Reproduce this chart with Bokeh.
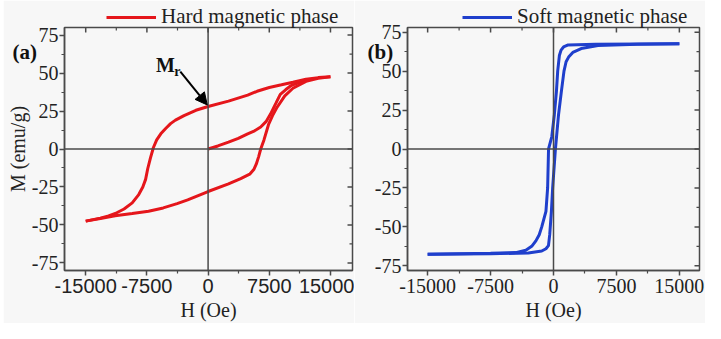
import math
from bokeh.plotting import figure
from bokeh.layouts import row
from bokeh.models import (Range1d, Span, Label, Arrow, NormalHead, GridBox,
                          Legend, LegendItem, FixedTicker, Spacer)
from bokeh.core.properties import value
from bokeh.embed import file_html
from bokeh.resources import INLINE

# ---------------- data ----------------
h_ticks = [-15000, -7500, 0, 7500, 15000]
h_tick_labels = ["-15000", "-7500", "0", "7500", "15000"]
h_minor = [-11250, -3750, 3750, 11250]
m_ticks = [-75, -50, -25, 0, 25, 50, 75]
m_tick_labels = ["-75", "-50", "-25", "0", "25", "50", "75"]
m_minor = [-62.5, -37.5, -12.5, 12.5, 37.5, 62.5]

# hard magnetic phase (a)
hard_init_H = [0, 1200, 2500, 3700, 4850, 5700, 6450, 7100, 7650, 8300, 8850, 9500, 10100, 11000, 12000]
hard_init_M = [0, 2, 4.5, 7, 10, 12, 14.5, 18, 23, 30, 36, 39, 41.5, 43.5, 45]

hard_desc_H = [15000, 13500, 12000, 10400, 9000, 7500, 6000, 4850, 2500, 0, -1500, -2950, -4000,
               -4600, -5200, -5800, -6300, -6700, -7070, -7400, -7660, -8000, -8500, -9300,
               -10300, -11200, -12200, -13200, -15000]
hard_desc_M = [47.5, 47, 46, 44, 42.3, 40.5, 38, 35.5, 31.5, 28, 25.5, 22, 19,
               16.7, 13.5, 10, 6, 1, -6, -13, -20, -25, -30, -35.5,
               -39.5, -42, -44, -45.5, -47.5]

hard_asc_H = [-15000, -13200, -11400, -9300, -7300, -5500, -3800, -2500, 0, 2500, 4000, 5100,
              5600, 5900, 6200, 6450, 6850, 7400, 7900, 8400, 9400, 10400, 12000, 13500, 15000]
hard_asc_M = [-47.5, -45.8, -44, -42.5, -41, -38.8, -36, -33.5, -28, -23, -19.5, -16.6,
              -13.5, -10, -5, 0, 6, 16, 22, 27, 35, 40, 44.5, 46.5, 47.5]

# soft magnetic phase (b)
soft_desc_H = [15000, 10000, 5000, 1750, 1200, 900, 700, 500, 350, 100, -200, -590, -700,
               -900, -1400, -1700, -2100, -2600, -3300, -4500, -7500, -15000]
soft_desc_M = [67.5, 67.4, 67.2, 66.8, 65.5, 63.5, 60, 50, 37, 22, 8, 0, -25,
               -40, -50, -55, -59, -62.5, -65, -66.5, -67, -67.5]

soft_asc_H = [-15000, -7500, -3000, -1400, -900, -600, -450, -250, -100, 230, 600, 940,
              1250, 1500, 1800, 2300, 3300, 5300, 10000, 15000]
soft_asc_M = [-67.5, -67.3, -66.7, -65.5, -64, -62, -55, -40, -25, 0, 22, 37,
              50, 56, 59, 62, 64.5, 66.5, 67.2, 67.5]

# ---------------- style ----------------
BG = "#f7f7f7"
PAGE_BG = "#fcfbc9"
AX = "#4a4a4a"
RED = "#e5161b"
BLUE = "#1f3fcc"
SERIF = "Liberation Serif"
SANS = "Liberation Sans"
FS = "20px"
W, H = 705, 323


def make_fig(width, xr, yr, left, right, xfont, ylabel):
    p = figure(width=width, height=H, x_range=Range1d(*xr), y_range=Range1d(*yr),
               output_backend="svg", toolbar_location=None,
               min_border_left=left, min_border_right=right,
               min_border_top=27, min_border_bottom=51)
    p.background_fill_color = BG
    p.border_fill_color = BG
    p.outline_line_color = AX
    p.outline_line_width = 1.5
    p.grid.visible = False

    xa = p.xaxis[0]
    ya = p.yaxis[0]
    xa.ticker = FixedTicker(ticks=h_ticks, minor_ticks=h_minor)
    ya.ticker = FixedTicker(ticks=m_ticks, minor_ticks=m_minor)
    xa.major_label_overrides = dict(zip(h_ticks, h_tick_labels))
    ya.major_label_overrides = dict(zip(m_ticks, m_tick_labels))
    for a, f in ((xa, xfont), (ya, SERIF)):
        a.axis_line_color = AX
        a.axis_line_width = 1.5
        a.major_tick_line_color = AX
        a.minor_tick_line_color = AX
        a.major_tick_line_width = 1.5
        a.minor_tick_line_width = 1.2
        a.major_tick_in = 0
        a.major_tick_out = 5
        a.minor_tick_in = 0
        a.minor_tick_out = 3
        a.major_label_text_font = f
        a.major_label_text_font_size = FS
        a.major_label_text_color = "#222222"
        a.axis_label_text_font = SERIF
        a.axis_label_text_font_style = "normal"
        a.axis_label_text_font_size = FS
        a.axis_label_text_color = "#222222"
    xa.major_label_standoff = 3
    xa.axis_label = "H (Oe)"
    xa.axis_label_standoff = 3
    ya.major_label_standoff = 1
    ya.axis_label_standoff = 0
    if ylabel:
        ya.axis_label = ylabel

    # inward mirror ticks on the top and right frame edges
    xmin, xmax = xr
    ymin, ymax = yr
    p.ray(x=[xmax] * len(m_ticks), y=m_ticks, length=5, length_units="screen",
          angle=math.pi, line_color=AX, line_width=1.5)
    p.ray(x=[xmax] * len(m_minor), y=m_minor, length=3, length_units="screen",
          angle=math.pi, line_color=AX, line_width=1.2)
    p.ray(x=h_ticks, y=[ymax] * len(h_ticks), length=5, length_units="screen",
          angle=-math.pi / 2, line_color=AX, line_width=1.5)
    p.ray(x=h_minor, y=[ymax] * len(h_minor), length=3, length_units="screen",
          angle=-math.pi / 2, line_color=AX, line_width=1.2)

    p.add_layout(Span(location=0, dimension="width", line_color=AX, line_width=1.5))
    p.add_layout(Span(location=0, dimension="height", line_color=AX, line_width=1.5))
    return p


# ---------- panel (a) ----------
p1 = make_fig(351, (-17600, 17700), (-80, 80), 52, 2, SANS, "M (emu/g)")
p1.line(hard_init_H, hard_init_M, line_color=RED, line_width=3)
p1.line(hard_desc_H, hard_desc_M, line_color=RED, line_width=3)
p1.line(hard_asc_H, hard_asc_M, line_color=RED, line_width=3)
p1.add_layout(Label(x=-6400, y=55, text="M", text_font=SERIF, text_font_style="bold",
                    text_font_size=FS, text_baseline="alphabetic", text_color="#111111"))
p1.add_layout(Label(x=-4150, y=51, text="r", text_font=SERIF, text_font_style="bold",
                    text_font_size="14px", text_baseline="alphabetic", text_color="#111111"))
p1.add_layout(Arrow(x_start=-3400, y_start=51, x_end=-100, y_end=29, line_width=2,
                    line_color="#000000",
                    end=NormalHead(size=12, fill_color="#000000", line_color="#000000")))

# ---------- panel (b) ----------
p2 = make_fig(351, (-17400, 17400), (-78, 78), 53, 6, SERIF, None)
p2.line(soft_asc_H, soft_asc_M, line_color=BLUE, line_width=3)
p2.line(soft_desc_H, soft_desc_M, line_color=BLUE, line_width=3)

main = row(Spacer(width=3, height=H), p1, p2)

# ---------- transparent overlay carrying legends and panel tags ----------
OFF = 1.0e6   # ranges far from the data, so the legend proxies draw nothing themselves
ov = figure(width=W, height=H, x_range=Range1d(OFF, OFF + W), y_range=Range1d(OFF, OFF + H),
            output_backend="svg", toolbar_location=None, min_border=0,
            x_axis_location=None, y_axis_location=None)
ov.background_fill_alpha = 0
ov.border_fill_alpha = 0
ov.outline_line_color = None
ov.grid.visible = False
ov.toolbar.active_drag = None
ov.toolbar.active_scroll = None

r_hard = ov.line(hard_desc_H, hard_desc_M, line_color=RED, line_width=3)
r_soft = ov.line(soft_desc_H, soft_desc_M, line_color=BLUE, line_width=3)


def legend_for(label, renderer, x):
    return Legend(items=[LegendItem(label=value(label), renderers=[renderer])],
                  location=(x, 294), orientation="horizontal", glyph_width=50, glyph_height=18,
                  label_height=18, label_standoff=5, padding=0, margin=0,
                  border_line_color=None, background_fill_alpha=0,
                  label_text_font=SERIF, label_text_font_size="21px", label_text_color="#222222")


ov.add_layout(legend_for("Hard magnetic phase", r_hard, 106), "center")
ov.add_layout(legend_for("Soft magnetic phase", r_soft, 462), "center")
for tag, tx in (("(a)", 12), ("(b)", 367)):
    ov.add_layout(Label(x=tx, y=272, x_units="screen", y_units="screen", text=tag,
                        text_font=SERIF, text_font_style="bold", text_font_size="21px",
                        text_baseline="middle", text_color="#111111"))

layout = GridBox(children=[(main, 0, 0), (ov, 0, 0)])

html = file_html(layout, INLINE)
html = html.replace("<body>", '<body style="background-color:%s;">' % PAGE_BG, 1)
open("out.html", "w").write(html)
